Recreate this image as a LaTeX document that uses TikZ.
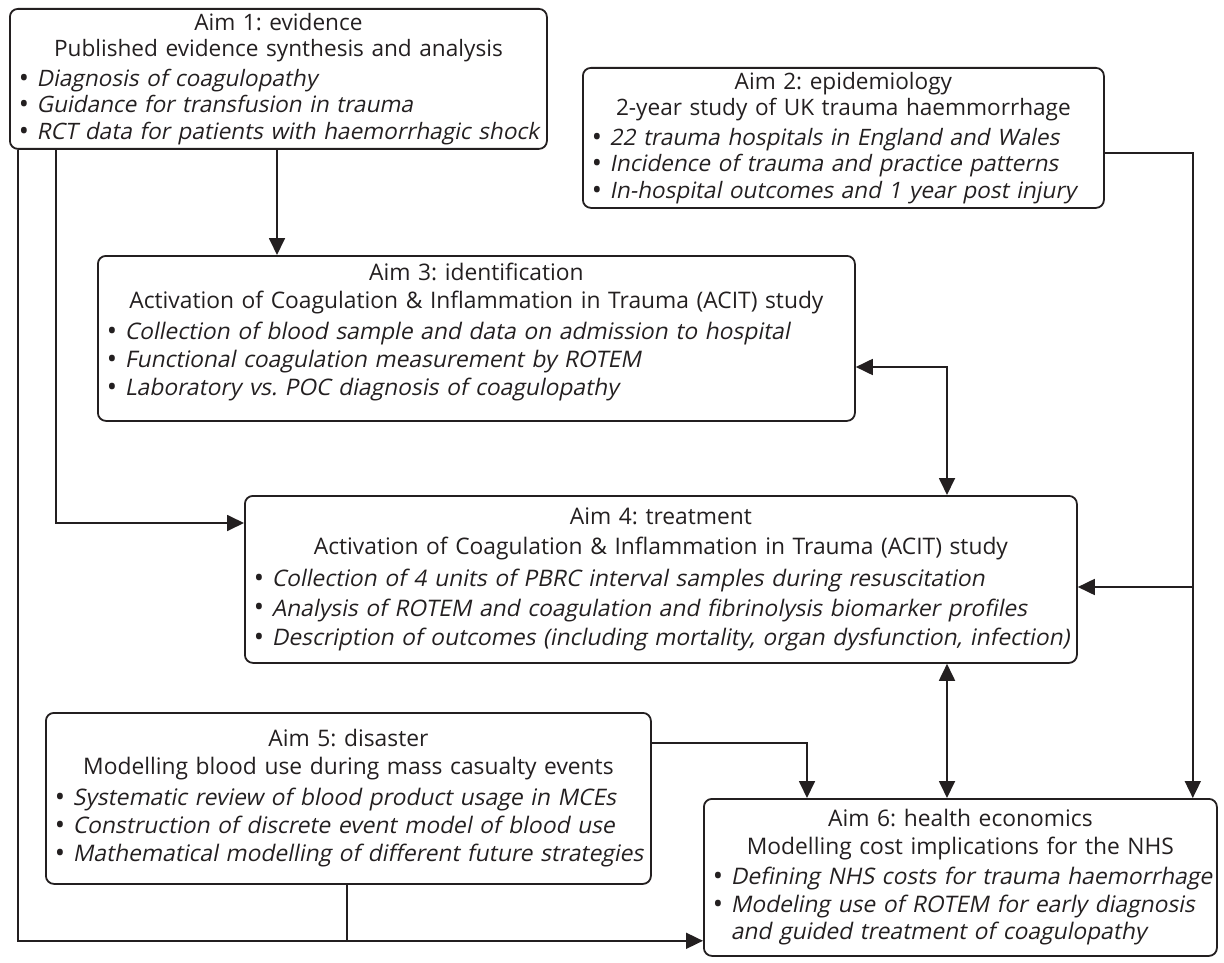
\documentclass[tikz,border=0pt]{standalone}
\usepackage{fontspec}
\setmainfont{Open Sans}[ItalicFont=Open Sans,ItalicFeatures={FakeSlant=0.2}]
\usetikzlibrary{positioning, arrows.meta}
\definecolor{ink}{RGB}{35,31,32}
\tikzset{
  aim/.style={draw=ink, text=ink, line width=1.8pt, rounded corners=8pt, anchor=north west,
    inner xsep=9pt, inner ysep=0pt},
  wire/.style={draw=ink, line width=1.8pt},
  link/.style={wire, -{Triangle[width=16pt,length=17pt]}},
  twoway/.style={wire, {Triangle[width=16pt,length=17pt]}-{Triangle[width=16pt,length=17pt]}},
}
\frenchspacing
\newcommand{\blt}{\raisebox{-0.04em}{\scalebox{1.2}{\textbullet}}}
\newcommand{\itm}[1]{\mbox{\blt\ \textit{#1}}}
\newcommand{\heads}[2]{{\centering #1\\#2\par}\vspace{3pt}\raggedright}
\newcommand{\padb}[1]{\par\nointerlineskip\vbox to #1{}}

\begin{document}
\begin{tikzpicture}[x=1pt,y=-1pt]
\useasboundingbox (0,0) rectangle (1224,963);

% the six aims
\node[aim, text width=519pt, minimum height=140pt, font=\fontsize{22.6}{26.5}\selectfont] (aim1) at (9,8) {%
  \heads{Aim 1: evidence}{Published evidence synthesis and analysis}
  \itm{Diagnosis of coagulopathy}\\
  \itm{Guidance for transfusion in trauma}\\
  \itm{RCT data for patients with haemorrhagic shock}};
\node[aim, text width=503pt, minimum height=140pt, font=\fontsize{22.6}{26.5}\selectfont] (aim2) at (582,67) {%
  \heads{Aim 2: epidemiology}{2-year study of UK trauma haemmorrhage}
  \itm{22 trauma hospitals in England and Wales}\\
  \itm{Incidence of trauma and practice patterns}\\
  \itm{In-hospital outcomes and 1 year post injury}};
\node[aim, text width=739pt, minimum height=165pt, font=\fontsize{22.8}{28}\selectfont] (aim3) at (97,255) {%
  \heads{Aim 3: identification}{Activation of Coagulation \& Inflammation in Trauma (ACIT) study}
  \itm{Collection of blood sample and data on admission to hospital}\\
  \itm{Functional coagulation measurement by ROTEM}\\
  \itm{Laboratory vs. POC diagnosis of coagulopathy}\padb{13pt}};
\node[aim, text width=814pt, minimum height=167pt, font=\fontsize{22.8}{29.5}\selectfont] (aim4) at (244,495) {%
  \heads{Aim 4: treatment}{Activation of Coagulation \& Inflammation in Trauma (ACIT) study}
  \itm{Collection of 4 units of PBRC interval samples during resuscitation}\\
  \itm{Analysis of ROTEM and coagulation and fibrinolysis biomarker profiles}\\
  \itm{Description of outcomes (including mortality, organ dysfunction, infection)}};
\node[aim, text width=587pt, minimum height=171pt, font=\fontsize{22.8}{28}\selectfont] (aim5) at (45,712) {%
  \heads{Aim 5: disaster}{Modelling blood use during mass casualty events}
  \itm{Systematic review of blood product usage in MCEs}\\
  \itm{Construction of discrete event model of blood use}\\
  \itm{Mathematical modelling of different future strategies}};
\node[aim, text width=495pt, minimum height=157pt, font=\fontsize{22.8}{27.5}\selectfont] (aim6) at (703,798) {%
  \heads{Aim 6: health economics}{Modelling cost implications for the NHS}
  \itm{Defining NHS costs for trauma haemorrhage}\\
  \itm{Modeling use of ROTEM for early diagnosis}\\
  \phantom{\blt\ }\textit{and guided treatment of coagulopathy}};

% evidence feeds aims 3, 4 and 6
\draw[link] ([xshift=268pt]aim1.south west) -- ([xshift=180pt]aim3.north west);
\draw[link] ([xshift=47pt]aim1.south west) |- ([yshift=-28pt]aim4.north west);
\coordinate (j6) at ([yshift=16pt]aim6.south west);
\draw[link] ([xshift=9pt]aim1.south west) |- (j6);
\coordinate (s5) at ([xshift=302pt]aim5.south west);
\draw[wire] (s5) -- (s5 |- j6);

% epidemiology feeds aims 4 and 6
\coordinate (e2) at ([yshift=-86pt]aim2.north east);
\coordinate (t6r) at ([xshift=-25pt]aim6.north east);
\coordinate (e4) at ([yshift=-92pt]aim4.north east);
\draw[link] (e2) -| (t6r);
\draw[link] (t6r |- e4) -- (e4);

% identification <-> treatment <-> economics
\coordinate (e3) at ([yshift=-112pt]aim3.north east);
\coordinate (t4) at ([xshift=703pt]aim4.north west);
\coordinate (b4) at ([xshift=703pt]aim4.south west);
\draw[twoway] (e3) -| (t4);
\draw[twoway] (b4) -- (b4 |- aim6.north);

% disaster feeds economics
\coordinate (e5) at ([yshift=-31pt]aim5.north east);
\coordinate (t6l) at ([xshift=104pt]aim6.north west);
\draw[link] (e5) -| (t6l);
\end{tikzpicture}
\end{document}
